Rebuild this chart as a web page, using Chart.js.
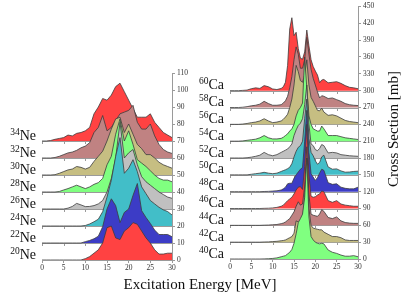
<!DOCTYPE html>
<html>
<head>
<meta charset="utf-8">
<script src="https://cdn.jsdelivr.net/npm/chart.js@4"></script>
<style>
  html, body { margin: 0; padding: 0; background: #fff; }
  #wrap { position: relative; width: 415px; height: 297px; }
  canvas { position: absolute; left: 0; top: 0; }
</style>
</head>
<body>
<div id="wrap">
  <canvas id="neChart" width="415" height="297"></canvas>
  <canvas id="caChart" width="415" height="297"></canvas>
</div>
<script>
// energies (MeV)
const neEnergy = [0,1,2,3,4,5,6,7,8,9,10,11,12,13,14,15,16,17,18,19,20,21,22,23,24,25,26,27,28,29,30];
const caEnergy = [0,1,2,3,4,5,6,7,8,9,10,11,12,12.5,13,13.5,14,14.5,15,15.5,16,16.5,17,17.5,18,18.5,19,19.5,20,20.5,21,21.5,22,23,24,25,26,27,28,29,30];

// isotopes, bottom to top
const neMass = [20, 22, 24, 26, 28, 30, 32, 34];
const caMass = [40, 42, 44, 46, 48, 50, 52, 54, 56, 58, 60];

// cross sections (mb), without the stacking offset
const ne20 = [0,0,0,0,0,0,0,0,0,0,0.8,2,4,6,10,19,20,13,12,17,19,22,21,17,13,10,6,3.5,3.5,4,4];
const ne22 = [0,0,0,0,0,0,0,0,0,0,0.8,1.5,2.5,4,9.6,20,26,22,12,18,20,28,35,19,15,11.5,7.6,5,5,5,3.7];
const ne24 = [0,0,0,0,0,0,0,0,0,0,0.3,1.2,2.5,4,8.4,17,27,41,52,31,34,39,32,23,19,15,13,11,9.5,8.5,6.5];
const ne26 = [0,0,0,0,0,0,0.5,1.5,3.3,2.4,1.4,1.5,2,3,5,10,18,30,51,30,33,35,26,19,16,14,12,10,8.5,7,6.3];
const ne28 = [0,0,0,0,0.3,1.2,2,3,4,3,2,3,4.5,5.5,8,16,21,34,43,30,36,28,19,17,15,12.5,10,8,7,7,6];
const ne30 = [0,0,0,0.2,1,2,3,3.5,5,4.5,3.5,4.5,8,11,14,20,27,33,34,25,30,24,18,15.5,12,12,10,7.5,6,5,4];
const ne32 = [0,0,0,0.3,1,2,3,3.5,4.5,6,7,9,15,18,25,16,18,22,26,27,28,31,21,17,17,20,13,8,5,3.5,2.7];
const ne34 = [0,0,0.3,1,1.5,2,3.5,3,4.5,5,6,8,16,20,25,24,27,32,34,29,24,19,14,14,14,16,11,8,5,3.5,2];

const ca40 = [0,0,0,0,0,0,0,0,0.2,0.5,1,2,4, 5,6,9,12,17,28,45,65,72,80,110,180,75,40,34,30,28,27,28,27, 16,12,10,7,5,5,6,4];
const ca42 = [0,0,0,0,0,0,0,0,0.3,0.5,1,1.5,2.5, 3,4,6,8,10,16,38,36,34,40,80,150,60,30,25,24,23,22,22,18, 14,10,10,8,4,3,3,3];
const ca44 = [0,0,0,0,0,0,0,0,0.3,0.5,1,1.5,3, 4,6,9,12,18,24,34,42,36,38,70,140,55,20,18,17,16,20,28,25, 14,12,15,8,5,4,3.5,3.5];
const ca46 = [0,0,0,0,0,0,0,0,0.3,0.5,1,2,4, 6,10,14,17,20,26,33,38,39,34,75,150,60,22,20,21,24,26,31,30, 14,11,14,8,6,5,4,4];
const ca48 = [0,0,0,0,0,0,0,0,0.3,0.5,1,1.5,3, 5,8,14,15,15,24,30,35,40,43,90,145,70,32,26,20,25,33,40,38, 16,13,14,8,6,5,5,8];
const ca50 = [0,0,0,0,0,1,2,3,4.5,3,2,3,6, 7.6,9,11,13.5,20,32,42,49,52,60,100,135,65,40,34,25,19,22,32,35, 14,10,10.6,7,4.7,5,6,6.5];
const ca52 = [0,0,0,0,0.5,1.5,3,5,10,6,4,6,10, 12,14,16,20,25,40,50,58,62,70,95,130,60,25,22,15,13,17,24,22, 9,10,9,6,5,4,3.5,3];
const ca54 = [0,0,0,0.5,1.5,2.5,3.5,6,10,6,4,4,5, 7,10,13,18,22,30,45,55,60,68,150,95,45,30,22,20,18,18,27,22, 10,10,10,8,6,5,4,3];
const ca56 = [0,0,0,0.5,1.5,3,4,6,10,6,3,4,6, 9,13,18,30,45,70,105,94,78,75,88,115,70,48,41,33,25,24,29,22, 16,17,15,11,7,5,4,3];
const ca58 = [0,0,0,0.5,1.5,3,4,6,11,7,4,4,5, 8,12,20,35,55,85,108,95,70,70,85,125,95,68,52,40,28,17,21,20, 16,17,14,11,7,5,4,3.5];
const ca60 = [0,0,0,0.5,1,3.5,5,4,9,7,3,2,4, 7,15,45,110,130,98,104,75,58,56,69,108,80,55,43,35,28,14,19,20, 14,15,16,13,9,6,5,3.5];

const neSeries = [ne20, ne22, ne24, ne26, ne28, ne30, ne32, ne34];
const caSeries = [ca40, ca42, ca44, ca46, ca48, ca50, ca52, ca54, ca56, ca58, ca60];

// colours
const RED = '#ff4242', BLUE = '#3c3cc6', CYAN = '#42bec8', GREY = '#c0c0c0',
      GREEN = '#80ff80', OLIVE = '#c6be82', ROSY = '#c08282';
const neColors = [RED, BLUE, CYAN, GREY, GREEN, OLIVE, ROSY, RED];
const caColors = [GREEN, OLIVE, ROSY, RED, BLUE, CYAN, GREY, GREEN, OLIVE, ROSY, RED];

const SERIF = '"Liberation Serif", "DejaVu Serif", serif';

function ridgeSets(energy, series, offsets, colors) {
  return series.map((vals, i) => ({
    data: energy.map((e, j) => ({ x: e, y: offsets[i] + vals[j] })),
    fill: { value: offsets[i] },
    backgroundColor: colors[i],
    borderColor: '#3c3c3c',
    borderWidth: 0.8,
    pointRadius: 0,
    tension: 0,
  }));
}

// baseline axis for every isotope + the isotope labels
const ridgePlugin = {
  id: 'ridges',
  beforeDatasetsDraw(chart, args, opts) {
    const { ctx, scales: { x, y } } = chart;
    ctx.save();
    ctx.strokeStyle = '#9a9a9a';
    ctx.lineWidth = 1;
    opts.offsets.forEach(off => {
      if (off === 0) return;
      const py = Math.round(y.getPixelForValue(off)) + 0.5;
      ctx.beginPath();
      ctx.moveTo(x.left, py);
      ctx.lineTo(x.right, py);
      for (let e = 0; e <= 30; e += 5) {
        const px = Math.round(x.getPixelForValue(e)) + 0.5;
        ctx.moveTo(px, py);
        ctx.lineTo(px, py + 2.5);
      }
      ctx.stroke();
    });
    ctx.restore();
  },
  afterDraw(chart, args, opts) {
    const { ctx, scales: { x, y } } = chart;
    ctx.save();
    ctx.fillStyle = '#111';
    ctx.textAlign = 'right';
    ctx.textBaseline = 'alphabetic';
    const right = x.left - 6;
    opts.masses.forEach((m, i) => {
      const py = y.getPixelForValue(opts.offsets[i]) - 1.5;
      ctx.font = '14px ' + SERIF;
      const w = ctx.measureText(opts.element).width;
      ctx.fillText(opts.element, right, py);
      ctx.font = '9.5px ' + SERIF;
      ctx.fillText(String(m), right - w, py - 5);
    });
    ctx.restore();
  }
};

// axis titles, drawn once over the whole figure
const titlePlugin = {
  id: 'titles',
  afterDraw(chart) {
    const ctx = chart.ctx;
    ctx.save();
    ctx.fillStyle = '#111';
    ctx.font = '15px ' + SERIF;
    ctx.textAlign = 'center';
    ctx.textBaseline = 'alphabetic';
    ctx.fillText('Excitation Energy [MeV]', 200, 289);
    ctx.translate(398, 129);
    ctx.rotate(-Math.PI / 2);
    ctx.fillText('Cross Section [mb]', 0, 0);
    ctx.restore();
  }
};

function axes(yMax, yStep) {
  const tickFont = { family: SERIF, size: 7.5 };
  return {
    x: {
      type: 'linear', min: 0, max: 30,
      ticks: { stepSize: 5, font: tickFont, color: '#333', padding: 1, maxRotation: 0 },
      grid: { drawOnChartArea: false, tickLength: 3, color: '#9a9a9a' },
      border: { color: '#9a9a9a' },
      afterFit: s => { s.height = 15; },
    },
    y: {
      position: 'right', min: 0, max: yMax,
      ticks: { stepSize: yStep, font: tickFont, color: '#333', padding: 2 },
      grid: { drawOnChartArea: false, tickLength: 3, color: '#9a9a9a' },
      border: { color: '#9a9a9a' },
      afterFit: s => { s.width = 30; },
    },
  };
}

const neOffsets = neMass.map((m, i) => i * 10);
const caOffsets = caMass.map((m, i) => i * 30);

new Chart(document.getElementById('neChart'), {
  type: 'line',
  data: { datasets: ridgeSets(neEnergy, neSeries, neOffsets, neColors) },
  options: {
    responsive: false,
    animation: false,
    events: [],
    layout: { padding: { left: 42, right: 213, top: 73, bottom: 22 } },
    scales: axes(110, 10),
    plugins: {
      legend: { display: false },
      tooltip: { enabled: false },
      ridges: { offsets: neOffsets, masses: neMass, element: 'Ne' },
    },
  },
  plugins: [ridgePlugin],
});

new Chart(document.getElementById('caChart'), {
  type: 'line',
  data: { datasets: ridgeSets(caEnergy, caSeries, caOffsets, caColors) },
  options: {
    responsive: false,
    animation: false,
    events: [],
    layout: { padding: { left: 230, right: 27, top: 4, bottom: 23 } },
    scales: axes(450, 30),
    plugins: {
      legend: { display: false },
      tooltip: { enabled: false },
      ridges: { offsets: caOffsets, masses: caMass, element: 'Ca' },
    },
  },
  plugins: [ridgePlugin, titlePlugin],
});
</script>
</body>
</html>
